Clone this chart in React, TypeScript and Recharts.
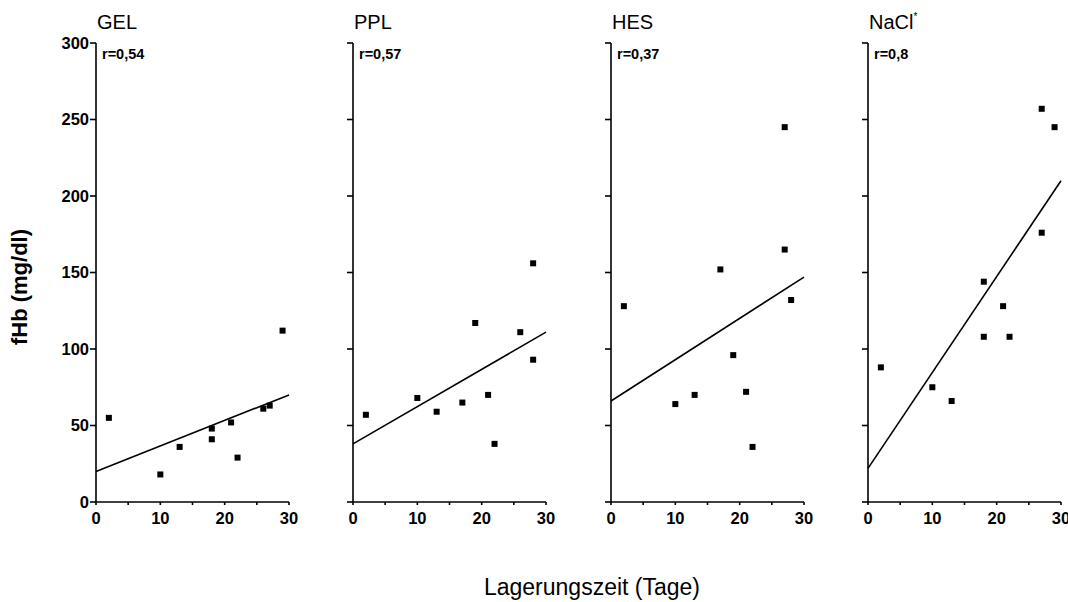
import React from 'react';
import { ScatterChart, Scatter, XAxis, YAxis } from 'recharts';

const FONT = '"Liberation Sans", Arial, Helvetica, sans-serif';

// Storage time (days) and free haemoglobin (mg/dl) per group
const GEL_DAYS = [2, 10, 13, 18, 18, 21, 22, 26, 27, 29];
const GEL_FHB = [55, 18, 36, 48, 41, 52, 29, 61, 63, 112];
const GEL_FIT = [20, 70];

const PPL_DAYS = [2, 10, 13, 17, 19, 21, 22, 26, 28, 28];
const PPL_FHB = [57, 68, 59, 65, 117, 70, 38, 111, 93, 156];
const PPL_FIT = [38, 111];

const HES_DAYS = [2, 10, 13, 17, 19, 21, 22, 27, 27, 28];
const HES_FHB = [128, 64, 70, 152, 96, 72, 36, 245, 165, 132];
const HES_FIT = [66, 147];

const NACL_DAYS = [2, 10, 13, 18, 18, 21, 22, 27, 27, 29];
const NACL_FHB = [88, 75, 66, 108, 144, 128, 108, 257, 176, 245];
const NACL_FIT = [22, 210];

const FIT_X = [0, 30];
const X_TICKS = [0, 5, 10, 15, 20, 25, 30];
const Y_TICKS = [0, 50, 100, 150, 200, 250, 300];

const TITLES = ['GEL', 'PPL', 'HES', 'NaCl'];
const R_LABELS = ['r=0,54', 'r=0,57', 'r=0,37', 'r=0,8'];
const Y_LABEL = 'fHb (mg/dl)';
const X_LABEL = 'Lagerungszeit (Tage)';

const GROUPS = [
  { days: GEL_DAYS, fhb: GEL_FHB, fit: GEL_FIT },
  { days: PPL_DAYS, fhb: PPL_FHB, fit: PPL_FIT },
  { days: HES_DAYS, fhb: HES_FHB, fit: HES_FIT },
  { days: NACL_DAYS, fhb: NACL_FHB, fit: NACL_FIT },
];

const AXIS_X = [96, 353, 611, 868];
const PLOT_W = 193;
const LEFT_PAD = 60;
const TICK_FONT = 16.5;

const Square = (props: any) => {
  const { cx, cy } = props;
  if (cx == null || cy == null) return <g />;
  return <rect x={cx - 3} y={cy - 3} width={6} height={6} fill="#000" />;
};
const NoShape = () => <g />;

const XTick = (props: any) => {
  const { x, y, payload } = props;
  const v = payload?.value;
  if (v == null || v % 10 !== 0) return <g />;
  return (
    <text
      x={x}
      y={y}
      dy="0.71em"
      textAnchor="middle"
      fontFamily={FONT}
      fontSize={TICK_FONT}
      fontWeight="bold"
      fill="#000"
    >
      {String(v)}
    </text>
  );
};

const YTick = (props: any) => {
  const { x, y, payload } = props;
  return (
    <text
      x={x}
      y={y}
      dy="0.355em"
      textAnchor="end"
      fontFamily={FONT}
      fontSize={TICK_FONT}
      fontWeight="bold"
      fill="#000"
    >
      {String(payload?.value)}
    </text>
  );
};
const EmptyTick = () => <g />;

const lineStyle = { stroke: '#000', strokeWidth: 1.6 };

function Panel({ idx }: { idx: number }) {
  const g = GROUPS[idx];
  const points = g.days.map((d, i) => ({ x: d, y: g.fhb[i] }));
  const fit = FIT_X.map((d, i) => ({ x: d, y: g.fit[i] }));
  return (
    <div style={{ position: 'absolute', left: AXIS_X[idx] - LEFT_PAD, top: 0 }}>
      <ScatterChart
        width={LEFT_PAD + PLOT_W + 12}
        height={602}
        margin={{ top: 43, right: 12, bottom: 70, left: 10 }}
      >
        <XAxis
          type="number"
          dataKey="x"
          domain={[0, 30]}
          ticks={X_TICKS}
          interval={0}
          height={30}
          tickSize={3}
          tickMargin={7}
          axisLine={lineStyle}
          tickLine={lineStyle}
          tick={<XTick />}
        />
        <YAxis
          type="number"
          dataKey="y"
          domain={[0, 300]}
          ticks={Y_TICKS}
          interval={0}
          width={50}
          tickSize={6}
          tickMargin={1}
          axisLine={lineStyle}
          tickLine={lineStyle}
          tick={idx === 0 ? <YTick /> : <EmptyTick />}
        />
        <Scatter data={points} shape={Square} isAnimationActive={false} />
        <Scatter
          data={fit}
          shape={NoShape}
          line={{ stroke: '#000', strokeWidth: 1.6 }}
          isAnimationActive={false}
        />
      </ScatterChart>
    </div>
  );
}

export default function App() {
  return (
    <div
      style={{
        position: 'absolute',
        left: 0,
        top: 0,
        width: 1068,
        height: 602,
        overflow: 'hidden',
        background: '#fff',
      }}
    >
      {GROUPS.map((_, i) => (
        <Panel key={i} idx={i} />
      ))}
      <svg
        width={1068}
        height={602}
        style={{ position: 'absolute', left: 0, top: 0, pointerEvents: 'none' }}
      >
        {TITLES.map((t, i) => (
          <text key={t} x={AXIS_X[i] + 1} y={29} fontFamily={FONT} fontSize={20} fill="#000">
            {t}
            {t === 'NaCl' ? (
              <tspan dy={-9} fontSize={10}>
                *
              </tspan>
            ) : null}
          </text>
        ))}
        {R_LABELS.map((t, i) => (
          <text
            key={t}
            x={AXIS_X[i] + 6}
            y={59}
            fontFamily={FONT}
            fontSize={14.5}
            fontWeight="bold"
            fill="#000"
          >
            {t}
          </text>
        ))}
        <text
          x={0}
          y={0}
          transform="translate(27,287) rotate(-90)"
          textAnchor="middle"
          fontFamily={FONT}
          fontSize={22}
          fontWeight="bold"
          fill="#000"
        >
          {Y_LABEL}
        </text>
        <text x={592} y={595} textAnchor="middle" fontFamily={FONT} fontSize={23} fill="#000">
          {X_LABEL}
        </text>
      </svg>
    </div>
  );
}
